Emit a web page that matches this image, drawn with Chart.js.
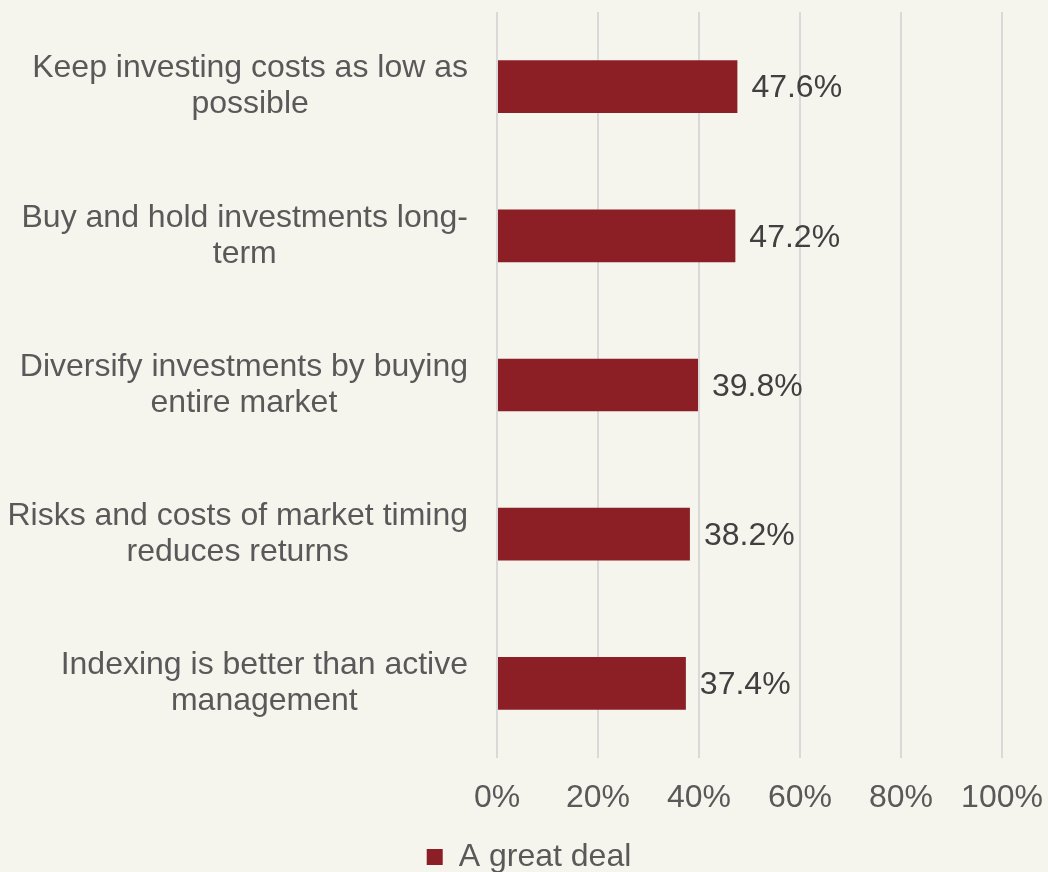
<!DOCTYPE html>
<html>
<head>
<meta charset="utf-8">
<script src="https://cdn.jsdelivr.net/npm/chart.js@4/dist/chart.umd.min.js"></script>
<style>
    html, body { margin: 0; padding: 0; background: #F5F4ED; overflow: hidden; }
    #chart-wrap { width: 1048px; height: 872px; overflow: hidden; }
    canvas { display: block; }
</style>
</head>
<body>
<div id="chart-wrap">
    <canvas id="chart-principles" width="1048" height="883"></canvas>
</div>
<script>
// data
const categories = [
    ["Keep investing costs as low as", "possible"],
    ["Buy and hold investments long-", "term"],
    ["Diversify investments by buying", "entire market"],
    ["Risks and costs of market timing", "reduces returns"],
    ["Indexing is better than active", "management"]
];
const greatDeal = [47.6, 47.2, 39.8, 38.2, 37.4];
const seriesName = "A great deal";
const xTicks = [0, 20, 40, 60, 80, 100];

window.onload = () => {

    Chart.defaults.font.family = "'Liberation Sans', Arial, sans-serif";
    Chart.defaults.font.size = 32;

    // y labels: block right aligned, each line centred in the block (like excel)
    const yLabelPlugin = {
        id: 'yLabels',
        afterDraw(chart) {
            const ctx = chart.ctx;
            const yScale = chart.scales.y;
            const rightEdge = 468;
            const lineH = 36;
            ctx.save();
            ctx.font = "32px 'Liberation Sans', Arial, sans-serif";
            ctx.fillStyle = '#595959';
            ctx.textAlign = 'center';
            ctx.textBaseline = 'middle';
            categories.forEach((lines, i) => {
                const y = yScale.getPixelForTick(i);
                let maxW = 0;
                lines.forEach(l => { maxW = Math.max(maxW, ctx.measureText(l).width); });
                const cx = rightEdge - maxW / 2;
                lines.forEach((l, j) => {
                    ctx.fillText(l, cx, y + (j - (lines.length - 1) / 2) * lineH);
                });
            });
            ctx.restore();
        }
    };

    // value labels at the end of each bar
    const valueLabelPlugin = {
        id: 'valueLabels',
        afterDatasetsDraw(chart) {
            const ctx = chart.ctx;
            const meta = chart.getDatasetMeta(0);
            ctx.save();
            ctx.font = "32px 'Liberation Sans', Arial, sans-serif";
            ctx.fillStyle = '#404040';
            ctx.textAlign = 'left';
            ctx.textBaseline = 'middle';
            meta.data.forEach((bar, i) => {
                ctx.fillText(greatDeal[i].toFixed(1) + '%', bar.x + 14, bar.y + 2);
            });
            ctx.restore();
        }
    };

    const element = document.getElementById("chart-principles");
    const chart = new Chart(element, {
        type: 'bar',
        data: {
            labels: categories,
            datasets: [{
                label: seriesName,
                data: greatDeal,
                backgroundColor: '#8B1F25',
                borderWidth: 0,
                barPercentage: 0.353,
                categoryPercentage: 1
            }]
        },
        options: {
            responsive: false,
            animation: false,
            indexAxis: 'y',
            layout: {
                padding: { top: 12, right: 46, left: 56, bottom: 0 }
            },
            scales: {
                x: {
                    min: 0,
                    max: 100,
                    afterBuildTicks: (scale) => {
                        scale.ticks = xTicks.map(v => ({ value: v }));
                    },
                    afterFit: (scale) => {
                        scale.height = 73;
                        scale.paddingLeft = 0;
                        scale.paddingRight = 0;
                    },
                    grid: {
                        color: '#D9D9D9',
                        lineWidth: 2,
                        drawTicks: false
                    },
                    border: { display: false },
                    ticks: {
                        color: '#595959',
                        padding: 21,
                        maxRotation: 0,
                        callback: (v) => v + '%'
                    }
                },
                y: {
                    afterFit: (scale) => { scale.width = 441; },
                    grid: { display: false },
                    border: { display: false },
                    ticks: { display: false }
                }
            },
            plugins: {
                legend: {
                    position: 'bottom',
                    labels: {
                        color: '#595959',
                        boxWidth: 16,
                        boxHeight: 16,
                        padding: 10
                    }
                },
                tooltip: { enabled: false }
            }
        },
        plugins: [yLabelPlugin, valueLabelPlugin]
    });

}
</script>
</body>
</html>
